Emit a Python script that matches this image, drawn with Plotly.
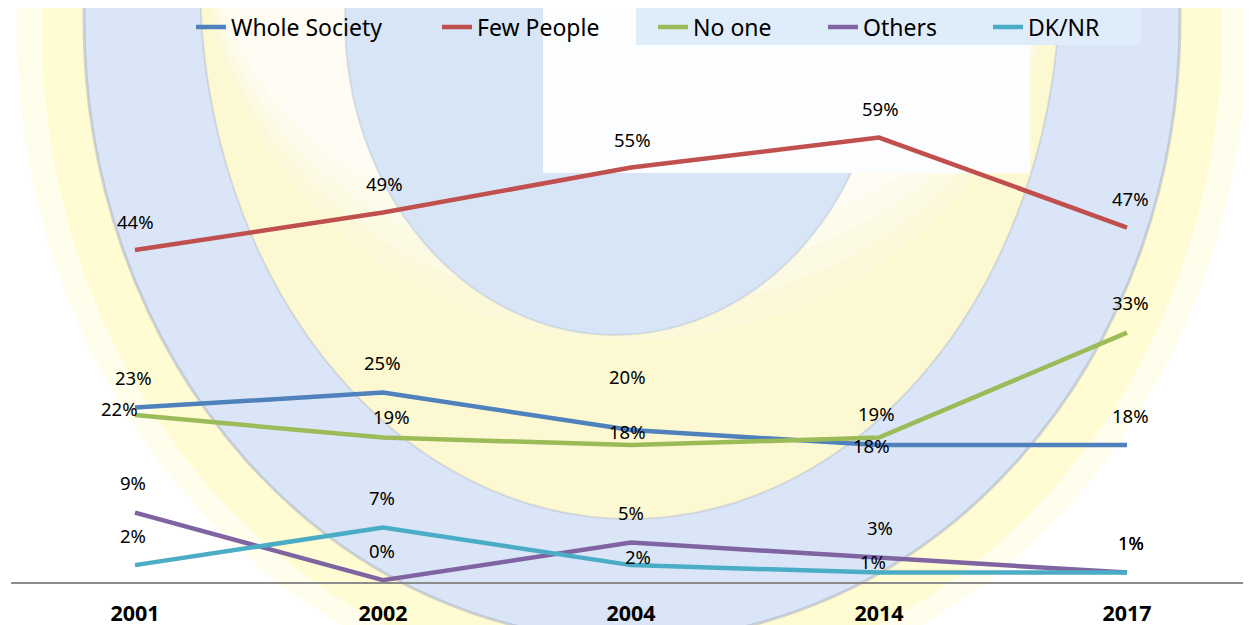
import plotly.graph_objects as go

# ---------------- data ----------------
years = ["2001", "2002", "2004", "2014", "2017"]
series_names = ["Whole Society", "Few People", "No one", "Others", "DK/NR"]
whole_society = [23, 25, 20, 18, 18]
few_people = [44, 49, 55, 59, 47]
no_one = [22, 19, 18, 19, 33]
others = [9, 0, 5, 3, 1]
dk_nr = [2, 7, 2, 1, 1]

# ---------------- styles ----------------
colors = ["#4F81BD", "#C0504D", "#9BBB59", "#8064A2", "#4BACC6"]
# label offsets (pixels): (dx, dy up)
label_offsets = [
    [(-2, 30), (-1, 30), (-4, 54), (-8, 0), (3, 30)],
    [(0, 29), (1, 29), (1, 28), (1, 29), (3, 29)],
    [(-16, 7), (8, 21), (-4, 14), (-3, 24), (3, 30)],
    [(-2, 30), (-1, 30), (0, 30), (1, 30), (4, 30)],
    [(-2, 30), (-1, 30), (7, 9), (-6, 11), (4, 30)],
]
legend_text_left = [231, 477, 693, 863, 1028]

W_FIG, H_FIG = 1251, 625
BODY = 8  # default page body margin around the plot div
PLOT_L, PLOT_T, PLOT_W, PLOT_H = 11, 55, 1240, 527
M_L, M_T = PLOT_L - BODY, PLOT_T - BODY
M_R = W_FIG - M_L - PLOT_W
M_B = H_FIG - M_T - PLOT_H
FONT = "Noto Sans"


def px(x):
    return (x - PLOT_L) / PLOT_W


def py(y):
    return (PLOT_T + PLOT_H - y) / PLOT_H


def ellipse(cx, cy, rx, ry, fill, line=None):
    return dict(type="circle", xref="paper", yref="paper", layer="below",
                x0=px(cx - rx), x1=px(cx + rx), y0=py(cy + ry), y1=py(cy - ry),
                fillcolor=fill, line=line or dict(width=0))


def rect(x0, y0, x1, y1, fill):
    return dict(type="rect", xref="paper", yref="paper", layer="below",
                x0=px(x0), x1=px(x1), y0=py(y1), y1=py(y0),
                fillcolor=fill, line=dict(width=0))


series = [whole_society, few_people, no_one, others, dk_nr]

fig = go.Figure()
for i, (name, vals) in enumerate(zip(series_names, series)):
    fig.add_trace(go.Scatter(
        x=years, y=vals, name=name, mode="lines",
        line=dict(color=colors[i], width=4.5),
        legend="legend" if i == 0 else f"legend{i + 1}",
        hoverinfo="skip",
    ))

annotations = []
for i, vals in enumerate(series):
    for j, v in enumerate(vals):
        dx, dy = label_offsets[i][j]
        annotations.append(dict(
            x=j, y=v, xref="x", yref="y", text=f"{v}%",
            showarrow=False, xshift=dx, yshift=dy,
            font=dict(family=FONT, size=18.5, color="#000000"),
        ))

# watermark (decorative background logo)
shapes = [
    ellipse(632, 30, 615, 675, "rgba(255,247,175,0.25)"),
    ellipse(632, 30, 590, 655, "rgba(255,247,175,0.40)"),
    ellipse(632, 20, 548, 620, "#dae6f7",
            line=dict(color="rgba(150,158,180,0.40)", width=3)),
    ellipse(630, -21, 430, 540, "#fcf8d2",
            line=dict(color="rgba(165,172,192,0.35)", width=2)),
    ellipse(630, -60, 425, 400, "rgba(255,255,255,0.20)"),
    ellipse(630, -60, 423, 370, "rgba(255,255,255,0.25)"),
    ellipse(630, -60, 420, 340, "rgba(255,255,255,0.30)"),
    ellipse(630, -60, 416, 310, "rgba(255,255,255,0.40)"),
    ellipse(615, 20, 270, 315, "#d8e5f7",
            line=dict(color="rgba(150,158,180,0.25)", width=2)),
    rect(543, -5, 1030, 173, "#fbfdff"),
    rect(636, -5, 1141, 45, "#dfecfa"),
]

layout_legends = {}
for i in range(len(series_names)):
    key = "legend" if i == 0 else f"legend{i + 1}"
    layout_legends[key] = dict(
        x=px(legend_text_left[i] - 40), xanchor="left",
        y=py(27), yanchor="middle",
        orientation="h", bgcolor="rgba(0,0,0,0)", borderwidth=0,
        font=dict(family=FONT, size=23, color="#000000"),
    )

fig.update_layout(
    width=W_FIG, height=H_FIG, autosize=False,
    margin=dict(l=M_L, r=M_R, t=M_T, b=M_B, autoexpand=False),
    paper_bgcolor="#ffffff", plot_bgcolor="rgba(0,0,0,0)",
    showlegend=True,
    annotations=annotations, shapes=shapes,
    xaxis=dict(type="category", range=[-0.5, 4.5], showline=True,
               linecolor="#8c8c8c", linewidth=2, showgrid=False,
               zeroline=False, ticks="", ticklabelstandoff=11,
               automargin=False,
               tickfont=dict(family=FONT, size=21.5, color="#000000",
                             weight="bold")),
    yaxis=dict(range=[-0.25, 70], visible=False, showgrid=False,
               automargin=False),
    **layout_legends,
)

fig.write_html("out.html")
